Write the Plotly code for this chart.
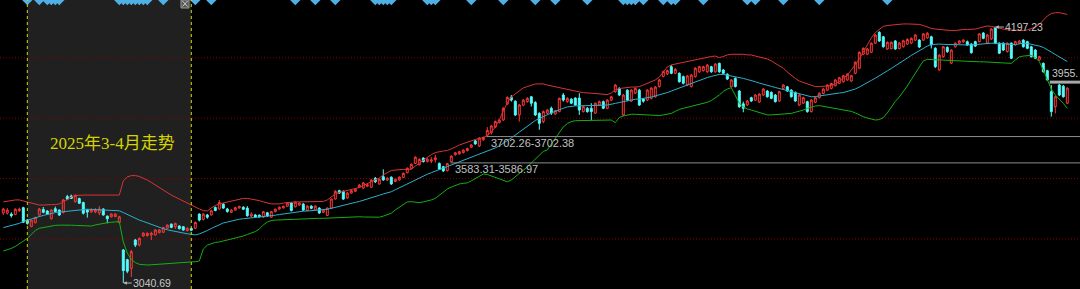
import plotly.graph_objects as go

# ---------------- data (Shanghai Composite style daily K-line) ----------------
opens = [
 3357,3356,3352,3350,3368,3381,3325,3295,3313,3348,
 3373,3366,3331,3376,3370,3359,3431,3434,3408,3422,
 3404,3370,3362,3362,3357,3375,3343,3340,3341,3314,
 3190,3146,3107,3235,3212,3253,3255,3258,3258,3268,
 3270,3288,3306,3295,3298,3295,3277,3287,3288,3352,
 3328,3348,3348,3382,3375,3397,3375,3360,3370,3380,
 3383,3379,3343,3348,3347,3338,3358,3338,3363,3375,
 3380,3387,3402,3385,3393,3397,3368,3388,3371,3379,
 3360,3346,3379,3420,3458,3455,3425,3447,3455,3474,
 3470,3478,3473,3514,3488,3521,3506,3519,3499,3506,
 3518,3539,3559,3581,3575,3605,3589,3591,3598,3581,
 3566,3548,3589,3620,3624,3630,3639,3654,3683,3660,
 3688,3708,3720,3745,3766,3777,3849,3880,3862,3800,
 3844,3860,3882,3856,3807,3770,3808,3830,3804,3815,
 3890,3860,3871,3876,3876,3815,3830,3830,3808,3845,
 3860,3830,3867,3905,3920,3800,3912,3862,3898,3912,
 3872,3867,3875,3882,3928,3974,3985,4018,3988,3988,
 3973,3935,3928,3973,3995,4000,3995,4018,3995,4033,
 4003,3984,3928,3965,3908,3850,3845,3878,3867,3858,
 3890,3908,3902,3890,3863,3920,3927,3912,3902,3845,
 3853,3860,3815,3857,3878,3897,3912,3920,3932,3943,
 3950,3958,3953,3988,4011,4074,4074,4083,4124,4173,
 4153,4098,4100,4134,4100,4108,4120,4125,4138,4138,
 4138,4148,4153,4101,4003,4063,4105,4034,4108,4124,
 4130,4131,4120,4131,4131,4170,4125,4143,4196,4124,
 4124,4086,4124,4116,4124,4138,4131,4108,4093,4048,
 4033,4000,3905,3837,3935,3930,3853]
closes = [
 3375,3370,3345,3374,3374,3315,3310,3325,3337,3375,
 3360,3352,3370,3364,3348,3416,3419,3423,3437,3401,
 3356,3361,3373,3370,3375,3348,3331,3352,3352,3340,
 3097,3094,3182,3212,3242,3266,3265,3265,3280,3280,
 3291,3302,3292,3310,3286,3280,3288,3279,3314,3325,
 3352,3338,3367,3368,3404,3379,3364,3370,3381,3386,
 3374,3345,3352,3338,3340,3363,3343,3363,3374,3383,
 3387,3402,3368,3406,3402,3370,3388,3378,3388,3357,
 3370,3379,3420,3455,3447,3420,3447,3458,3464,3483,
 3493,3484,3506,3498,3509,3506,3514,3488,3509,3519,
 3536,3559,3577,3609,3599,3589,3600,3597,3606,3555,
 3547,3580,3614,3629,3634,3641,3648,3664,3669,3695,
 3698,3730,3750,3770,3777,3830,3879,3867,3800,3845,
 3867,3875,3853,3800,3762,3815,3822,3808,3819,3875,
 3867,3875,3853,3845,3822,3837,3815,3815,3853,3860,
 3830,3867,3882,3935,3890,3890,3867,3912,3920,3845,
 3862,3912,3921,3926,3958,3996,4000,3988,4006,3950,
 3943,3976,3980,4011,4018,4018,4025,3995,4030,3995,
 3988,3962,3958,3928,3837,3830,3863,3863,3890,3894,
 3917,3882,3875,3860,3905,3935,3908,3882,3863,3890,
 3878,3815,3867,3878,3898,3917,3935,3942,3958,3968,
 3977,3984,3977,4038,4083,4101,4098,4124,4161,4134,
 4108,4128,4128,4098,4125,4135,4141,4146,4161,4107,
 4166,4169,4116,4018,4070,4108,4086,4093,4124,4134,
 4138,4116,4081,4111,4166,4146,4161,4188,4124,4079,
 4093,4124,4056,4131,4134,4108,4101,4063,4056,4063,
 3995,3958,3815,3882,3890,3882,3921]
highs = [
 3380,3379,3360,3378,3381,3385,3330,3326,3340,3380,
 3384,3370,3374,3386,3373,3420,3439,3440,3441,3426,
 3408,3375,3378,3379,3388,3378,3345,3356,3356,3344,
 3194,3150,3190,3240,3247,3270,3270,3272,3284,3284,
 3295,3306,3310,3313,3302,3298,3292,3290,3318,3355,
 3356,3353,3372,3386,3415,3402,3380,3374,3385,3390,
 3388,3388,3360,3352,3350,3366,3362,3366,3377,3386,
 3390,3405,3406,3410,3406,3402,3392,3392,3392,3383,
 3374,3382,3422,3460,3462,3459,3452,3461,3467,3488,
 3497,3490,3510,3520,3513,3554,3518,3522,3513,3522,
 3540,3563,3581,3613,3604,3609,3604,3609,3620,3585,
 3570,3583.31,3618,3633,3638,3645,3652,3668,3688,3700,
 3702.26,3745,3755,3775,3781,3835,3884,3890,3866,3850,
 3872,3880,3885,3862,3812,3820,3826,3838,3823,3878,
 3899,3880,3876,3880,3898,3842,3835,3853,3857,3865,
 3865,3871,3886,3940,3925,3894,3916,3916,3925,3918,
 3876,3916,3925,3930,3962,4000,4005,4025,4012,3992,
 3978,3980,3985,4016,4022,4022,4030,4022,4034,4036,
 4008,3988,3962,3970,3912,3860,3867,3882,3894,3898,
 3921,3912,3906,3894,3909,3939,3931,3916,3906,3894,
 3882,3864,3871,3882,3902,3921,3939,3946,3962,3972,
 3981,3988,3981,4042,4087,4105,4102,4128,4165,4178,
 4157,4132,4132,4138,4130,4140,4146,4150,4165,4142,
 4170,4174,4158,4106,4075,4112,4110,4097,4128,4138,
 4142,4136,4124,4135,4170,4174,4165,4192,4197.23,4128,
 4128,4128,4128,4135,4138,4142,4135,4112,4097,4067,
 4037,4004,3935,3886,3940,3935,3925]
lows = [
 3348,3350,3336,3347,3361,3312,3304,3294,3310,3345,
 3356,3348,3328,3360,3343,3355,3415,3420,3404,3398,
 3350,3336,3358,3356,3347,3345,3310,3336,3338,3310,
 3040.69,3085,3068,3203,3207,3249,3250,3235,3255,3265,
 3266,3285,3288,3285,3283,3277,3274,3275,3285,3319,
 3323,3331,3345,3365,3373,3376,3358,3357,3367,3376,
 3370,3340,3338,3335,3336,3335,3340,3335,3360,3372,
 3377,3385,3364,3382,3390,3366,3365,3374,3368,3353,
 3356,3343,3376,3418,3443,3416,3421,3444,3452,3470,
 3466,3474,3470,3492,3485,3503,3502,3484,3496,3503,
 3515,3536,3556,3578,3572,3585,3586,3582,3585,3551,
 3542,3545,3586.97,3616,3620,3626,3635,3650,3665,3655,
 3683,3702.38,3712,3740,3762,3773,3845,3860,3795,3770,
 3840,3855,3838,3795,3733,3762,3803,3800,3800,3812,
 3860,3855,3849,3841,3800,3811,3810,3777,3804,3840,
 3826,3826,3862,3900,3885,3795,3862,3858,3894,3840,
 3855,3863,3870,3878,3924,3970,3980,3984,3984,3946,
 3938,3930,3924,3969,3990,3996,3990,3990,3990,3990,
 3984,3958,3924,3924,3832,3812,3840,3858,3862,3854,
 3886,3878,3871,3856,3859,3916,3904,3878,3859,3840,
 3849,3810,3811,3853,3874,3893,3908,3916,3928,3939,
 3946,3954,3949,3984,4007,4070,4070,4079,4120,4130,
 4104,4094,4096,4094,4096,4104,4116,4120,4134,4102,
 4134,4144,4100,4012,4000,4058,4080,4030,4104,4120,
 4126,4112,4077,4107,4127,4142,4120,4139,4120,4075,
 4089,4082,4052,4112,4120,4104,4097,4059,4052,4044,
 3991,3954,3792,3807,3885,3878,3849]

# Bollinger band values
boll_upper = [
 3407,3411,3413,3416,3416,3411,3407,3400,3395,3393,
 3393,3395,3395,3395,3398,3407,3420,3429,3436,3438,
 3438,3438,3438,3438,3438,3438,3438,3438,3438,3438,
 3502,3520,3526,3526,3522,3515,3506,3495,3483,3472,
 3461,3450,3438,3429,3420,3411,3402,3391,3382,3375,
 3368,3366,3380,3391,3398,3402,3407,3411,3416,3420,
 3423,3423,3420,3418,3413,3407,3402,3398,3398,3398,
 3402,3404,3407,3407,3407,3407,3407,3407,3407,3409,
 3409,3416,3429,3443,3450,3454,3459,3463,3468,3472,
 3481,3490,3499,3508,3515,3529,3540,3549,3551,3554,
 3554,3554,3554,3569,3583,3596,3610,3621,3630,3635,
 3637,3639,3646,3655,3664,3671,3678,3682,3689,3694,
 3698,3707,3723,3746,3777,3818,3854,3881,3895,3908,
 3922,3928,3935,3940,3940,3940,3935,3931,3926,3922,
 3917,3913,3910,3908,3904,3901,3899,3898,3896,3895,
 3893,3892,3899,3913,3919,3922,3924,3926,3926,3928,
 3935,3942,3949,3958,3971,3994,4017,4026,4030,4035,
 4039,4041,4044,4050,4055,4059,4062,4064,4066,4059,
 4064,4071,4074,4075,4075,4074,4071,4071,4066,4062,
 4059,4053,4044,4032,4021,4011,3994,3978,3965,3953,
 3947,3940,3933,3928,3928,3928,3931,3933,3940,3951,
 3966,3980,4003,4026,4053,4084,4116,4148,4172,4188,
 4200,4204,4206,4209,4209,4211,4211,4211,4211,4209,
 4204,4197,4191,4188,4186,4184,4181,4181,4181,4184,
 4186,4186,4186,4188,4193,4197,4202,4200,4196,4191,
 4186,4184,4184,4182,4181,4181,4184,4191,4197,4209,
 4229,4247,4258,4262,4262,4258,4254]
boll_mid = [
 3291,3296,3301,3305,3310,3319,3325,3330,3334,3340,
 3346,3350,3355,3359,3361,3363,3366,3368,3371,3373,
 3374,3374,3373,3372,3371,3371,3371,3370,3369,3367,
 3359,3350,3341,3332,3325,3319,3312,3305,3298,3291,
 3286,3281,3277,3273,3270,3267,3263,3261,3258,3262,
 3269,3278,3287,3296,3305,3312,3316,3321,3325,3329,
 3331,3333,3334,3336,3338,3339,3340,3343,3347,3350,
 3353,3356,3358,3360,3362,3365,3366,3367,3369,3371,
 3372,3374,3378,3383,3388,3392,3397,3401,3405,3409,
 3414,3420,3426,3432,3437,3443,3448,3453,3462,3471,
 3480,3489,3498,3507,3516,3525,3532,3539,3547,3554,
 3560,3567,3574,3580,3586,3593,3600,3606,3613,3620,
 3627,3634,3642,3651,3660,3671,3682,3696,3709,3723,
 3736,3750,3764,3775,3784,3793,3801,3809,3816,3824,
 3830,3836,3840,3841,3841,3841,3842,3842,3843,3844,
 3844,3845,3847,3852,3856,3860,3864,3867,3871,3872,
 3874,3877,3881,3886,3890,3895,3901,3908,3915,3922,
 3928,3935,3942,3949,3956,3962,3969,3974,3978,3983,
 3983,3980,3977,3974,3969,3965,3960,3956,3950,3944,
 3940,3935,3929,3924,3919,3914,3910,3905,3899,3895,
 3890,3886,3882,3883,3886,3890,3892,3895,3897,3899,
 3901,3906,3910,3917,3926,3935,3946,3956,3966,3976,
 3987,3999,4010,4021,4035,4046,4057,4069,4080,4091,
 4102,4111,4118,4120,4120,4119,4118,4117,4116,4116,
 4116,4116,4116,4118,4120,4122,4123,4124,4124,4123,
 4120,4118,4117,4118,4121,4124,4123,4120,4116,4111,
 4105,4096,4084,4073,4062,4050,4041]
boll_lower = [
 3185,3190,3197,3206,3217,3228,3242,3260,3278,3288,
 3292,3296,3298,3301,3302,3303,3303,3302,3301,3300,
 3298,3298,3298,3303,3307,3310,3313,3315,3316,3318,
 3226,3176,3147,3133,3125,3122,3122,3123,3124,3125,
 3127,3127,3129,3130,3131,3132,3134,3136,3137,3140,
 3194,3212,3219,3224,3226,3230,3234,3238,3243,3247,
 3253,3260,3267,3273,3285,3303,3316,3323,3325,3326,
 3327,3328,3328,3329,3329,3329,3330,3331,3332,3333,
 3333,3334,3335,3336,3337,3338,3339,3340,3340,3340,
 3339,3338,3337,3337,3338,3343,3350,3356,3371,3384,
 3398,3407,3408,3405,3404,3407,3411,3416,3423,3438,
 3453,3465,3474,3481,3488,3491,3493,3502,3513,3524,
 3533,3531,3524,3518,3511,3504,3498,3506,3520,3533,
 3547,3565,3583,3601,3619,3635,3642,3669,3696,3723,
 3746,3761,3770,3774,3774,3775,3776,3776,3777,3777,
 3777,3777,3777,3765,3788,3795,3800,3803,3803,3802,
 3801,3800,3798,3797,3797,3800,3804,3807,3816,3825,
 3830,3834,3838,3843,3847,3852,3857,3865,3877,3890,
 3906,3917,3923,3890,3853,3836,3827,3822,3816,3809,
 3804,3800,3800,3801,3802,3804,3806,3807,3812,3816,
 3822,3830,3836,3840,3842,3839,3836,3833,3830,3827,
 3825,3822,3816,3809,3800,3792,3786,3782,3777,3779,
 3788,3809,3836,3861,3881,3904,3931,3960,3989,4019,
 4044,4051,4050,4048,4047,4046,4045,4045,4044,4043,
 4042,4041,4041,4041,4040,4040,4039,4038,4037,4036,
 4036,4035,4033,4048,4062,4066,4069,4069,4059,4041,
 4003,3958,3917,3890,3872,3852,3830]

signal_idx = [6, 9, 11, 12, 13, 14, 29, 30, 31, 32, 33, 34, 35, 36, 40, 48, 52,
              73, 78, 83, 93, 94, 95, 96, 97, 106, 107, 108, 117, 125, 133, 138,
              146, 155, 156, 157, 158, 160, 165, 167, 168, 175, 186, 188, 195,
              204, 221]

grid_levels = [4058.1, 3785.2, 3512.3, 3239.4]
gap_levels = [3583.31, 3702.26]
gap_start = [111, 120]
gap_labels = ["3583.31-3586.97", "3702.26-3702.38"]
low_idx, low_val, low_label = 30, 3040.69, "3040.69"
high_idx, high_val, high_label = 248, 4197.23, "4197.23"
last_idx, last_price, last_label = 262, 3955, "3955."
shade_start, shade_end = 6, 47
title_text = "2025年3-4月走势"

# ---------------- figure ----------------
W, H = 1080, 289
X_MIN, X_MAX = -0.825, 269.175
Y_MIN, Y_MAX = 3013.6, 4319.2
PX_PER_PRICE = H / (Y_MAX - Y_MIN)

n = len(closes)
xs = list(range(n))

fig = go.Figure()
fig.add_trace(go.Candlestick(
    x=xs, open=opens, high=highs, low=lows, close=closes,
    increasing=dict(line=dict(color="#ff3838", width=1), fillcolor="rgba(0,0,0,0)"),
    decreasing=dict(line=dict(color="#54fcfc", width=1), fillcolor="#54fcfc"),
    whiskerwidth=0, showlegend=False, hoverinfo="skip"))

for vals, col in [(boll_upper, "#d83434"), (boll_mid, "#2cb0cc"), (boll_lower, "#14b014")]:
    fig.add_trace(go.Scatter(x=xs, y=vals, mode="lines",
                             line=dict(color=col, width=1), showlegend=False,
                             hoverinfo="skip"))

fig.add_trace(go.Scatter(
    x=signal_idx, y=[Y_MAX] * len(signal_idx), mode="markers",
    marker=dict(symbol="diamond", size=8, color="#4fb0e6"),
    showlegend=False, hoverinfo="skip", cliponaxis=True))

shapes = []
shapes.append(dict(type="rect", xref="x", yref="paper", x0=shade_start, x1=shade_end,
                   y0=0, y1=1, fillcolor="#202020", line=dict(width=0), layer="below"))
for g in grid_levels:
    shapes.append(dict(type="line", xref="paper", yref="y", x0=0, x1=1, y0=g, y1=g,
                       line=dict(color="#8a0000", width=1, dash="1px,2px"), layer="below"))
for xv in (shade_start, shade_end):
    shapes.append(dict(type="line", xref="x", yref="paper", x0=xv, x1=xv, y0=0, y1=1,
                       line=dict(color="#d8d800", width=1, dash="3px,3px"), layer="above"))
for lvl, st in zip(gap_levels, gap_start):
    shapes.append(dict(type="line", xref="x", yref="y", x0=st + 0.8, x1=X_MAX, y0=lvl, y1=lvl,
                       line=dict(color="#8c8c8c", width=1), layer="above"))
bar_h = 3 / PX_PER_PRICE
shapes.append(dict(type="rect", xref="x", yref="y", x0=last_idx - 0.4, x1=X_MAX,
                   y0=last_price - bar_h, y1=last_price, fillcolor="#a8a8a8",
                   line=dict(width=0), layer="above"))

# small close-box icon at the top of the highlighted range
icon_x0, icon_x1 = (181 / W), (189 / W)
icon_y0, icon_y1 = 1 - 8 / H, 1.0
shapes.append(dict(type="rect", xref="paper", yref="paper", x0=icon_x0, x1=icon_x1,
                   y0=icon_y0, y1=icon_y1, fillcolor="#585858",
                   line=dict(color="#9a9a9a", width=1), layer="above"))
shapes.append(dict(type="line", xref="paper", yref="paper", x0=icon_x0 + 1.5 / W,
                   x1=icon_x1 - 1.5 / W, y0=icon_y0 + 1.5 / H, y1=icon_y1 - 1 / H,
                   line=dict(color="#d0d0d0", width=1), layer="above"))
shapes.append(dict(type="line", xref="paper", yref="paper", x0=icon_x0 + 1.5 / W,
                   x1=icon_x1 - 1.5 / W, y0=icon_y1 - 1 / H, y1=icon_y0 + 1.5 / H,
                   line=dict(color="#d0d0d0", width=1), layer="above"))

annotations = []
annotations.append(dict(text=title_text, xref="paper", yref="paper", x=112.5 / W,
                        y=1 - 143.5 / H, xanchor="center", yanchor="middle", showarrow=False,
                        font=dict(family="Liberation Serif, Noto Sans CJK SC", size=17,
                                  color="#d4d400")))
for xi, yv, txt in [(low_idx, low_val, low_label), (high_idx, high_val, high_label)]:
    annotations.append(dict(text=txt, x=xi, y=yv, xref="x", yref="y", showarrow=True,
                            ax=29, ay=0, arrowhead=2, arrowsize=0.7, arrowwidth=1,
                            arrowcolor="#b8b8b8", standoff=0,
                            font=dict(family="Liberation Sans", size=10.5, color="#c8c8c8")))
for lvl, st, txt in zip(gap_levels, gap_start, gap_labels):
    annotations.append(dict(text=txt, x=st + 0.8, y=lvl, xref="x", yref="y", showarrow=False,
                            xanchor="left", yanchor="top", xshift=2, yshift=2,
                            font=dict(family="Liberation Sans", size=11, color="#c0c0c0")))
annotations.append(dict(text=last_label, x=last_idx, y=last_price, xref="x", yref="y",
                        showarrow=False, xanchor="left", yanchor="bottom", xshift=-1, yshift=0,
                        font=dict(family="Liberation Sans", size=10.5, color="#c8c8c8")))

fig.update_layout(
    width=W, height=H, margin=dict(l=0, r=0, t=0, b=0),
    paper_bgcolor="#000000", plot_bgcolor="#000000",
    xaxis=dict(range=[X_MIN, X_MAX], visible=False, rangeslider=dict(visible=False),
               fixedrange=True),
    yaxis=dict(range=[Y_MIN, Y_MAX], visible=False, fixedrange=True),
    shapes=shapes, annotations=annotations, showlegend=False,
)

fig.write_html("out.html", config={"displayModeBar": False})
